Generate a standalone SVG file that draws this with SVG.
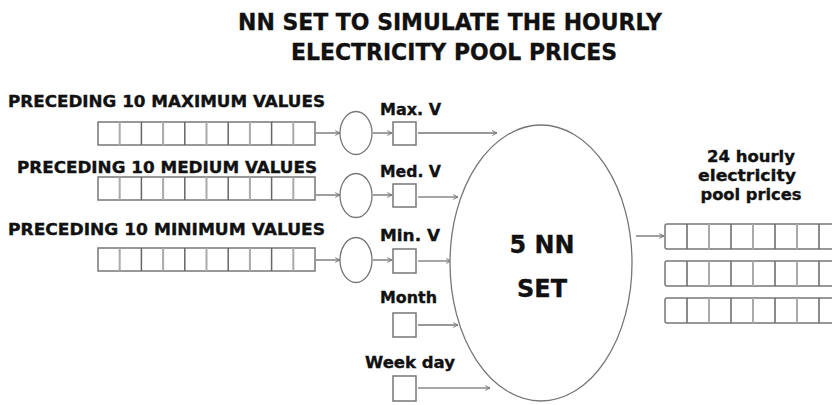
<svg xmlns="http://www.w3.org/2000/svg" width="832" height="405" viewBox="0 0 832 405">
<style>
text{font-family:"DejaVu Sans","Verdana",sans-serif;font-weight:bold;fill:#111;stroke:#111;stroke-width:0.35}
.t{font-size:23px}
.l{font-size:16px}
.s{font-size:15px}
.big{font-size:25px}
.box{fill:#fff;stroke:#777;stroke-width:1.5}
.d1{stroke:#666;stroke-width:1.5}
.d2{stroke:#aaa;stroke-width:2}
.ell{fill:#fff;stroke:#777;stroke-width:1.3}
.arr{stroke:#888;stroke-width:1.6;fill:none;marker-end:url(#ah)}
</style>
<defs>
<marker id="ah" viewBox="0 0 10 10" refX="9" refY="5" markerWidth="6" markerHeight="6" markerUnits="userSpaceOnUse" orient="auto">
<path d="M1,1 L9,5 L1,9" fill="none" stroke="#777" stroke-width="1.6"/>
</marker>
<g id="row10">
<rect class="box" x="0" y="0" width="217" height="23"/>
<line class="d2" x1="21.7" y1="0" x2="21.7" y2="23"/>
<line class="d1" x1="43.4" y1="0" x2="43.4" y2="23"/>
<line class="d2" x1="65.1" y1="0" x2="65.1" y2="23"/>
<line class="d1" x1="86.8" y1="0" x2="86.8" y2="23"/>
<line class="d2" x1="108.5" y1="0" x2="108.5" y2="23"/>
<line class="d1" x1="130.2" y1="0" x2="130.2" y2="23"/>
<line class="d2" x1="151.9" y1="0" x2="151.9" y2="23"/>
<line class="d1" x1="173.6" y1="0" x2="173.6" y2="23"/>
<line class="d2" x1="195.3" y1="0" x2="195.3" y2="23"/>
</g>
<g id="rowout">
<rect class="box" x="0" y="0" width="200" height="25" rx="2"/>
<line class="d1" x1="22" y1="0" x2="22" y2="25"/>
<line class="d2" x1="44" y1="0" x2="44" y2="25"/>
<line class="d1" x1="66" y1="0" x2="66" y2="25"/>
<line class="d2" x1="88" y1="0" x2="88" y2="25"/>
<line class="d1" x1="110" y1="0" x2="110" y2="25"/>
<line class="d2" x1="132" y1="0" x2="132" y2="25"/>
<line class="d1" x1="154" y1="0" x2="154" y2="25"/>
<line class="d2" x1="176" y1="0" x2="176" y2="25"/>
</g>
</defs>
<rect width="832" height="405" fill="#fff"/>

<g id="title">
<text class="t" x="450" y="30" text-anchor="middle" textLength="424" lengthAdjust="spacingAndGlyphs">NN SET TO SIMULATE THE HOURLY</text>
<text class="t" x="454" y="60" text-anchor="middle" textLength="326" lengthAdjust="spacingAndGlyphs">ELECTRICITY POOL PRICES</text>
</g>

<g id="connectors">
<line class="arr" x1="316" y1="133" x2="340" y2="133"/>
<line class="arr" x1="316" y1="195" x2="340" y2="195"/>
<line class="arr" x1="316" y1="260" x2="340" y2="260"/>
<line class="arr" x1="373" y1="133" x2="392" y2="133"/>
<line class="arr" x1="373" y1="195" x2="392" y2="195"/>
<line class="arr" x1="373" y1="260" x2="392" y2="260"/>
<line class="arr" x1="418" y1="133" x2="497" y2="133" style="stroke-width:2.2;stroke:#999"/>
<line class="arr" x1="418" y1="197" x2="458" y2="197"/>
<line class="arr" x1="418" y1="261" x2="451" y2="261"/>
<line class="arr" x1="418" y1="325" x2="458" y2="325" style="stroke-width:2.2;stroke:#999"/>
<line class="arr" x1="418" y1="388" x2="490" y2="388"/>
<line class="arr" x1="636" y1="236" x2="664" y2="236"/>
</g>

<g id="in-max">
<text class="s" x="8" y="107" textLength="317" lengthAdjust="spacingAndGlyphs">PRECEDING 10 MAXIMUM VALUES</text>
<use href="#row10" x="98" y="122"/>
</g>
<g id="in-med">
<text class="s" x="17" y="173" textLength="300" lengthAdjust="spacingAndGlyphs">PRECEDING 10 MEDIUM VALUES</text>
<use href="#row10" x="98" y="177"/>
</g>
<g id="in-min">
<text class="s" x="8" y="235" textLength="317" lengthAdjust="spacingAndGlyphs">PRECEDING 10 MINIMUM VALUES</text>
<use href="#row10" x="98" y="248"/>
</g>

<g id="agg-max"><ellipse class="ell" cx="356" cy="133" rx="16" ry="21.5"/></g>
<g id="agg-med"><ellipse class="ell" cx="356" cy="195.5" rx="16" ry="22"/></g>
<g id="agg-min"><ellipse class="ell" cx="356" cy="260" rx="16" ry="22.5"/></g>

<g id="max-v">
<text class="l" x="380" y="115" textLength="61" lengthAdjust="spacingAndGlyphs">Max. V</text>
<rect class="box" x="393" y="122" width="23" height="23"/>
</g>
<g id="med-v">
<text class="l" x="380" y="177" textLength="61" lengthAdjust="spacingAndGlyphs">Med. V</text>
<rect class="box" x="393" y="184" width="23" height="23"/>
</g>
<g id="min-v">
<text class="l" x="380" y="241" textLength="60" lengthAdjust="spacingAndGlyphs">Min. V</text>
<rect class="box" x="393" y="249" width="23" height="24"/>
</g>
<g id="month">
<text class="l" x="380" y="303" textLength="57" lengthAdjust="spacingAndGlyphs">Month</text>
<rect class="box" x="393" y="313" width="23" height="24"/>
</g>
<g id="weekday">
<text class="l" x="365" y="368" textLength="90" lengthAdjust="spacingAndGlyphs">Week day</text>
<rect class="box" x="393" y="376" width="23" height="25"/>
</g>

<g id="nn-set">
<ellipse class="ell" cx="541" cy="263" rx="91" ry="138"/>
<text class="big" x="542" y="253" text-anchor="middle" textLength="65" lengthAdjust="spacingAndGlyphs">5 NN</text>
<text class="big" x="542" y="297" text-anchor="middle" textLength="50" lengthAdjust="spacingAndGlyphs">SET</text>
</g>

<g id="output">
<text class="l" x="751" y="162" text-anchor="middle" textLength="88" lengthAdjust="spacingAndGlyphs">24 hourly</text>
<text class="l" x="747" y="181" text-anchor="middle" textLength="98" lengthAdjust="spacingAndGlyphs">electricity</text>
<text class="l" x="751" y="200" text-anchor="middle" textLength="101" lengthAdjust="spacingAndGlyphs">pool prices</text>
<use href="#rowout" x="665" y="224"/>
<use href="#rowout" x="665" y="261"/>
<use href="#rowout" x="665" y="298"/>
</g>
</svg>
